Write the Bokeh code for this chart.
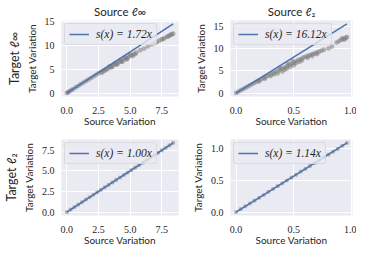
from bokeh.plotting import figure
from bokeh.models import Range1d, FixedTicker, Title, Legend, LegendItem
from bokeh.layouts import gridplot
from bokeh.embed import file_html
from bokeh.resources import INLINE

# ---------------- data ----------------
# Source l_inf -> Target l_inf
tl_x = [0, 0.1, 0.2, 0.35, 0.5, 0.7, 0.9, 1.1, 1.3, 1.5, 1.7, 1.9, 2.1, 2.3, 2.5, 2.7, 2.9,
        3.1, 3.3, 3.5, 3.7, 3.9, 4.1, 4.3, 4.5, 4.7, 4.9, 5.1, 5.3, 5.5, 5.8, 6.1, 6.4, 6.7,
        6.9, 7.1, 7.3, 7.5, 7.7, 7.9, 8.1, 8.3, 8.4,
        2.8, 3.2, 3.6, 4.0, 4.4, 4.8, 5.2, 3.4, 3.8, 4.2, 4.6, 5.0, 7.0, 7.6, 8.0, 8.2,
        3.0, 3.5, 3.9, 4.3, 4.7, 5.4]
tl_y = [0, 0.17, 0.34, 0.59, 0.84, 1.17, 1.5, 1.84, 2.16, 2.49, 2.8, 3.13, 3.45, 3.77, 4.1, 4.4, 4.7,
        5.0, 5.3, 5.6, 5.9, 6.2, 6.45, 6.75, 7.05, 7.35, 7.65, 7.9, 8.2, 8.5, 8.95, 9.3, 9.75, 10.2,
        10.45, 10.7, 10.95, 11.2, 11.45, 11.75, 12.0, 12.25, 12.4,
        4.3, 4.95, 5.5, 6.0, 6.6, 7.2, 7.75, 5.6, 6.2, 6.85, 7.4, 8.0, 10.5, 11.35, 11.85, 12.2,
        4.65, 5.35, 5.95, 6.5, 7.0, 8.1]
tl_k = 1.72

# Source l_2 -> Target l_inf
tr_x = [0, 0.02, 0.04, 0.06, 0.08, 0.1, 0.12, 0.14, 0.16, 0.18, 0.2, 0.22, 0.24, 0.26, 0.28,
        0.3, 0.32, 0.34, 0.36, 0.38, 0.4, 0.42, 0.44, 0.46, 0.48, 0.5, 0.52, 0.54, 0.56, 0.58,
        0.6, 0.62, 0.64, 0.66, 0.68, 0.7, 0.72, 0.74, 0.76, 0.8, 0.83, 0.87, 0.89, 0.91, 0.93,
        0.95, 0.96,
        0.3, 0.33, 0.36, 0.38, 0.4, 0.42, 0.44, 0.45, 0.47, 0.49, 0.5, 0.52, 0.55, 0.57, 0.62,
        0.66, 0.7, 0.25, 0.2, 0.92, 0.94]
tr_y = [0, 0.3, 0.6, 0.88, 1.15, 1.45, 1.72, 2.0, 2.3, 2.55, 2.85, 3.1, 3.4, 3.65, 3.95,
        4.2, 4.5, 4.75, 4.9, 5.2, 5.5, 5.7, 6.0, 6.3, 6.55, 6.8, 7.1, 7.4, 7.6, 7.9,
        8.1, 8.3, 8.5, 8.7, 8.9, 9.1, 9.3, 9.5, 9.7, 10.0, 10.4, 11.3, 11.6, 11.9, 12.1,
        12.4, 12.5,
        3.8, 4.2, 4.4, 5.6, 4.8, 5.2, 5.5, 6.6, 5.9, 7.2, 6.2, 6.7, 7.0, 7.3, 7.9,
        8.3, 8.7, 3.2, 2.6, 12.3, 12.0]
tr_k = 16.12

# Source l_inf -> Target l_2
bl_x = [0, 0.3, 0.6, 0.9, 1.2, 1.5, 1.8, 2.1, 2.4, 2.7, 3.0, 3.3, 3.6, 3.9, 4.2, 4.5, 4.8,
        5.1, 5.4, 5.7, 6.0, 6.3, 6.6, 6.9, 7.2, 7.5, 7.8, 8.1, 8.4]
bl_y = [0, 0.3, 0.6, 0.9, 1.2, 1.5, 1.8, 2.1, 2.4, 2.7, 3.0, 3.3, 3.6, 3.9, 4.2, 4.5, 4.8,
        5.1, 5.4, 5.7, 6.0, 6.3, 6.6, 6.9, 7.2, 7.5, 7.8, 8.1, 8.4]
bl_k = 1.00

# Source l_2 -> Target l_2
br_x = [0, 0.04, 0.08, 0.12, 0.16, 0.2, 0.24, 0.28, 0.32, 0.36, 0.4, 0.44, 0.48, 0.52, 0.56,
        0.6, 0.64, 0.68, 0.72, 0.76, 0.8, 0.84, 0.88, 0.92, 0.96]
br_y = [0, 0.045, 0.09, 0.135, 0.18, 0.225, 0.27, 0.32, 0.365, 0.41, 0.455, 0.5, 0.545, 0.59, 0.64,
        0.685, 0.73, 0.775, 0.82, 0.865, 0.91, 0.955, 1.0, 1.05, 1.094]
br_k = 1.14

col_titles = ["Source ℓ∞", "Source ℓ₂"]
row_titles = ["Target ℓ∞", "Target ℓ₂"]

left_xticks = [0, 2.5, 5, 7.5]
left_xlabels = ["0.0", "2.5", "5.0", "7.5"]
right_xticks = [0, 0.5, 1.0]
right_xlabels = ["0.0", "0.5", "1.0"]
top_yticks = [0, 5, 10, 15]
top_ylabels = ["0", "5", "10", "15"]
bl_yticks = [0, 2.5, 5, 7.5]
bl_ylabels = ["0.0", "2.5", "5.0", "7.5"]
br_yticks = [0, 0.5, 1.0]
br_ylabels = ["0.0", "0.5", "1.0"]

# ---------------- style ----------------
BG = "#EAEAF2"
BLUE = "#4C72B0"
TXT = "#262626"
SANS = "Lato"
SERIF = "Liberation Serif"


def margins(lo, hi):
    d = (hi - lo) * 0.05
    return lo - d, hi + d


def panel(xs, ys, k, xt, xl, yt, yl, width, height, bl, br, bt, bb,
          title=None, rowtitle=None, msize=4.2):
    x0, x1 = margins(min(xs), max(xs))
    ymax = max(max(ys), k * max(xs))
    y0, y1 = margins(0, ymax)
    p = figure(width=width, height=height, output_backend="svg", toolbar_location=None,
               x_range=Range1d(x0, x1), y_range=Range1d(y0, y1),
               min_border_left=bl, min_border_right=br, min_border_top=bt,
               min_border_bottom=bb, background_fill_color=BG,
               border_fill_color="white", outline_line_color=None)
    p.scatter(xs, ys, size=msize, fill_color="#808080", fill_alpha=0.55, line_color=None)
    lx = [0, max(xs)]
    ly = [0, k * max(xs)]
    r = p.line(lx, ly, line_color=BLUE, line_width=1.5)

    p.xaxis.ticker = FixedTicker(ticks=xt)
    p.xaxis.major_label_overrides = {t: s for t, s in zip(xt, xl)}
    p.yaxis.ticker = FixedTicker(ticks=yt)
    p.yaxis.major_label_overrides = {t: s for t, s in zip(yt, yl)}
    for ax in (p.xaxis[0], p.yaxis[0]):
        ax.axis_line_color = None
        ax.major_tick_line_color = None
        ax.minor_tick_line_color = None
        ax.major_tick_out = 0
        ax.major_tick_in = 0
        ax.major_label_text_font = SERIF
        ax.major_label_text_font_size = "10px"
        ax.major_label_text_color = TXT
        ax.axis_label_text_font = SANS
        ax.axis_label_text_font_size = "10px"
        ax.axis_label_text_font_style = "normal"
        ax.axis_label_text_color = TXT
    p.xaxis.axis_label = "Source Variation"
    p.yaxis.axis_label = "Target Variation"
    p.xaxis.major_label_standoff = 10
    p.xaxis.axis_label_standoff = -2
    p.yaxis.major_label_standoff = 7
    p.yaxis.axis_label_standoff = 4
    p.grid.grid_line_color = "white"
    p.grid.grid_line_width = 1
    p.xgrid.ticker = FixedTicker(ticks=xt)
    p.ygrid.ticker = FixedTicker(ticks=yt)

    leg = Legend(items=[LegendItem(label="s(x) = %.2fx" % k, renderers=[r])],
                 location="top_left", margin=3, padding=4, spacing=0,
                 glyph_width=20, glyph_height=10, label_standoff=7,
                 label_text_font=SERIF, label_text_font_style="italic",
                 label_text_font_size="11.5px", label_text_color=TXT,
                 background_fill_color=BG, background_fill_alpha=0.8,
                 border_line_color="#CCCCCC", border_line_width=1)
    try:
        leg.border_radius = 3
    except Exception:
        pass
    p.add_layout(leg, "center")

    if title:
        p.title.text = title
        p.title.align = "center"
        p.title.text_font = SANS
        p.title.text_font_size = "11.5px"
        p.title.text_font_style = "normal"
        p.title.text_color = TXT
        p.title.standoff = 5
        p.title.offset = 0
    if rowtitle:
        t = Title(text=rowtitle, align="center", text_font=SANS, text_font_size="12.5px",
                  text_font_style="normal", text_color=TXT, standoff=2)
        p.add_layout(t, "left")
    return p


p1 = panel(tl_x, tl_y, tl_k, left_xticks, left_xlabels, top_yticks, top_ylabels,
           188, 133, 52, 10, 20, 37, title=col_titles[0], rowtitle=row_titles[0], msize=4.8)
p2 = panel(tr_x, tr_y, tr_k, right_xticks, right_xlabels, top_yticks, top_ylabels,
           168, 133, 38, 4, 20, 37, title=col_titles[1], msize=4.8)
p3 = panel(bl_x, bl_y, bl_k, left_xticks, left_xlabels, bl_yticks, bl_ylabels,
           188, 119, 52, 10, 6, 37, rowtitle=row_titles[1])
p4 = panel(br_x, br_y, br_k, right_xticks, right_xlabels, br_yticks, br_ylabels,
           168, 119, 38, 4, 6, 37)

grid = gridplot([[p1, p2], [p3, p4]], toolbar_location=None)

open("out.html", "w").write(file_html(grid, INLINE))
